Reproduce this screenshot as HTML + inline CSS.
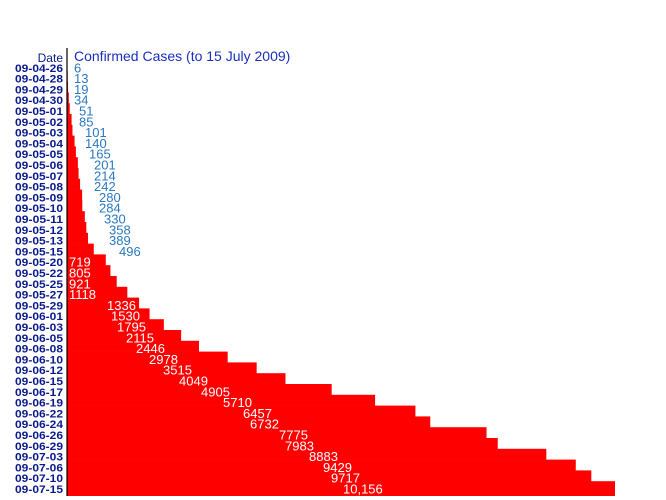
<!DOCTYPE html>
<html><head><meta charset="utf-8"><style>
body{margin:0;background:#fff;}
svg{display:block;}
.d{font-family:"Liberation Sans",sans-serif;font-size:11px;font-weight:bold;fill:#0a1a8c;}
.v{font-family:"Liberation Sans",sans-serif;font-size:13px;}
</style></head><body>
<svg id="s" width="666" height="500" xmlns="http://www.w3.org/2000/svg">
<text x="63" y="62" class="d" text-anchor="end" style="font-weight:normal;font-size:12px">Date</text>
<text x="74" y="61" class="v" fill="#1a2fbf" style="font-size:14px">Confirmed Cases (to 15 July 2009)</text>
</svg>
<script>
var d=["09-04-26","09-04-28","09-04-29","09-04-30","09-05-01","09-05-02","09-05-03","09-05-04","09-05-05","09-05-06","09-05-07","09-05-08","09-05-09","09-05-10","09-05-11","09-05-12","09-05-13","09-05-15","09-05-20","09-05-22","09-05-25","09-05-27","09-05-29","09-06-01","09-06-03","09-06-05","09-06-08","09-06-10","09-06-12","09-06-15","09-06-17","09-06-19","09-06-22","09-06-24","09-06-26","09-06-29","09-07-03","09-07-06","09-07-10","09-07-15"];
var v=[6,13,19,34,51,85,101,140,165,201,214,242,280,284,330,358,389,496,719,805,921,1118,1336,1530,1795,2115,2446,2978,3515,4049,4905,5710,6457,6732,7775,7983,8883,9429,9717,10156];
var tx=[74,74,74,74,79,79,85,85,89,94,94,94,99,99,104,109,109,119,69,69,69,69,107,111,117,126,136,149,163,179,201,223,243,250,279,285,309,323,331,343];
var s=document.getElementById('s'),h='';
var rh=10.8,t0=60;
for(var i=0;i<40;i++){
 var y=t0+i*rh,w=v[i]*548/10156,hh=(i==39)?(496-y):rh+0.3;
 h+='<rect x="67" y="'+y.toFixed(2)+'" width="'+w.toFixed(2)+'" height="'+hh.toFixed(2)+'" fill="#ff0000"/>';
}
for(var i=0;i<40;i++){
 var y=t0+i*rh+9.5;
 h+='<text x="15" y="'+(y+2.3).toFixed(2)+'" class="d" textLength="48" lengthAdjust="spacingAndGlyphs">'+d[i]+'</text>';
 var lab=(i==39)?'10,156':v[i];
 h+='<text x="'+tx[i]+'" y="'+(y+2.8).toFixed(2)+'" class="v" fill="'+(i>=18?'#ffffff':'#2b78c0')+'">'+lab+'</text>';
}
h+='<line x1="67" y1="48" x2="67" y2="496" stroke="#000" stroke-width="1.2"/>';
s.insertAdjacentHTML('beforeend',h);
</script>
</body></html>
